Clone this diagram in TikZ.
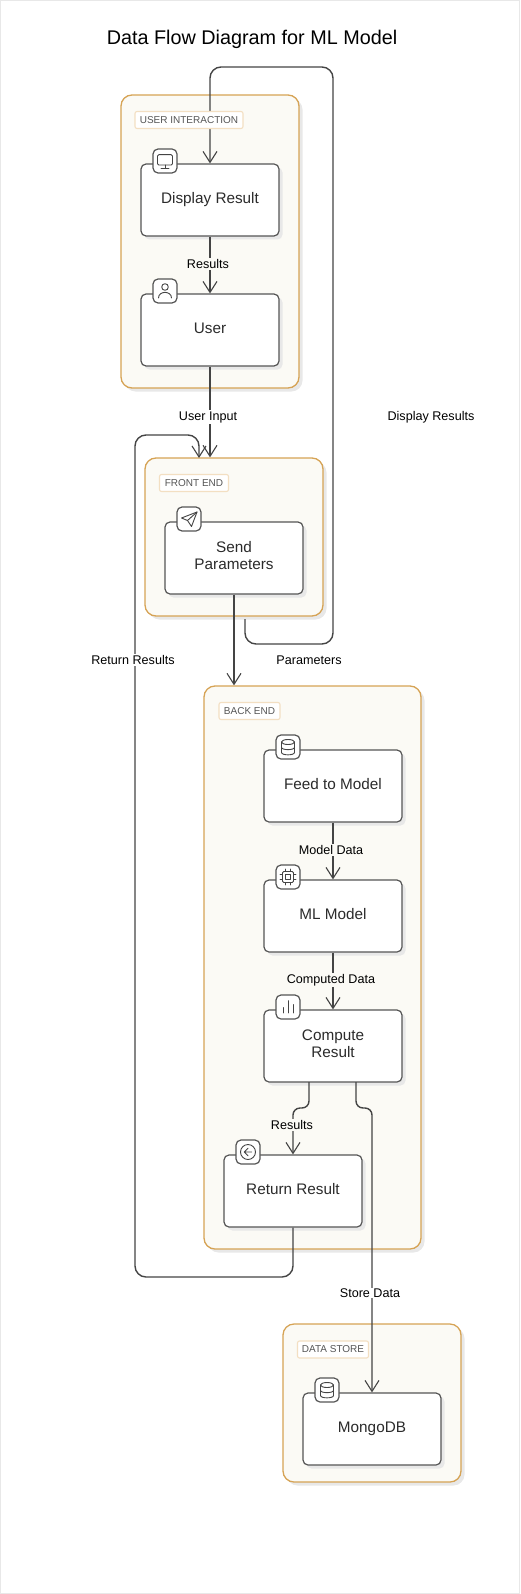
\documentclass[tikz,border=0pt]{standalone}
\usepackage{fontspec}
\setmainfont{Liberation Sans}
\usetikzlibrary{arrows.meta,shadows}
\definecolor{grpedge}{HTML}{D6A355}
\definecolor{grpfill}{HTML}{FBFAF5}
\definecolor{tagedge}{HTML}{F3DFC2}
\definecolor{boxedge}{HTML}{555555}
\definecolor{flowcol}{HTML}{444444}
\definecolor{txtcol}{HTML}{2B2B2B}
\definecolor{framecol}{HTML}{E8E8E8}
\tikzset{
  grpbox/.style={draw=grpedge,fill=grpfill,line width=1.3pt,rounded corners=11pt,inner sep=0pt,
    general shadow={shadow xshift=3.5pt,shadow yshift=-3.5pt,fill=black!9}},
  taskbox/.style={draw=boxedge,fill=white,line width=1.2pt,rounded corners=5pt,inner sep=0pt,
    minimum width=138pt,minimum height=72pt,align=center,text=txtcol,text depth=4.5pt,
    font=\fontsize{15.3}{17}\selectfont,
    general shadow={shadow xshift=3.5pt,shadow yshift=-3.5pt,fill=black!9}},
  iconbox/.style={draw=boxedge,fill=white,line width=1.2pt,rounded corners=5pt,inner sep=0pt,
    minimum width=24pt,minimum height=24pt},
  taglabel/.style={draw=tagedge,fill=white,line width=1.1pt,rounded corners=2pt,inner sep=0pt,
    minimum height=17pt,text=boxedge,font=\fontsize{10}{12}\selectfont},
  edgelabel/.style={inner sep=1pt,fill=white,text=black,font=\fontsize{12.6}{14}\selectfont},
  edgelabelin/.style={edgelabel,fill=grpfill},
  flow/.style={draw=flowcol,line width=1.4pt,rounded corners=11pt,
    -{Straight Barb[length=11pt,width=14pt,line width=1.1pt]}},
  glyph/.style={draw=flowcol,line width=0.9pt,line cap=round,line join=round},
  iconmonitor/.pic={
    \draw[glyph,rounded corners=1.3pt] (-7.5,-6.3) rectangle (7.5,4);
    \draw[glyph] (0,4) -- (0,7) (-4,7) -- (4,7);
  },
  iconuser/.pic={
    \draw[glyph] (0,-4) circle [radius=3.3];
    \draw[glyph] (-6.5,7) .. controls (-6.5,-0.5) and (6.5,-0.5) .. (6.5,7);
  },
  iconsend/.pic={
    \draw[glyph] (8,-7) -- (-7.5,-1) -- (-1.5,1.5) -- (2.5,7.5) -- cycle;
    \draw[glyph] (-1.5,1.5) -- (8,-7);
  },
  icondb/.pic={
    \draw[glyph] (0,-5) ellipse [x radius=6.5,y radius=2.5];
    \draw[glyph] (-6.5,-5) -- (-6.5,5.5) .. controls (-6.5,8.6) and (6.5,8.6) .. (6.5,5.5) -- (6.5,-5);
    \draw[glyph] (-6.5,0.3) .. controls (-6.5,3.4) and (6.5,3.4) .. (6.5,0.3);
  },
  iconcpu/.pic={
    \draw[glyph,rounded corners=1.3pt] (-5.5,-5.5) rectangle (5.5,5.5);
    \draw[glyph] (-2.5,-2.5) rectangle (2.5,2.5);
    \draw[glyph] (-2.5,-5.5) -- (-2.5,-8) (2.5,-5.5) -- (2.5,-8) (-2.5,5.5) -- (-2.5,8) (2.5,5.5) -- (2.5,8);
    \draw[glyph] (-5.5,-2.5) -- (-8,-2.5) (-5.5,2.5) -- (-8,2.5) (5.5,-2.5) -- (8,-2.5) (5.5,2.5) -- (8,2.5);
  },
  iconchart/.pic={
    \draw[glyph] (-5,0.5) -- (-5,6) (0,-6.3) -- (0,6) (5,-2.5) -- (5,6);
  },
  iconback/.pic={
    \draw[glyph] (0,0) circle [radius=7.5];
    \draw[glyph] (3.7,0) -- (-3.7,0) (0,-3.7) -- (-3.7,0) -- (0,3.7);
  },
}
\begin{document}
\begin{tikzpicture}[x=1pt,y=-1pt]
\useasboundingbox (0,0) rectangle (520,1594);
\draw [framecol,line width=1pt] (0.5,0.5) rectangle (519.5,1593.5);

% groups
\node [grpbox,minimum width=178pt,minimum height=293pt] (userside) at (210,241.5) {};
\node [grpbox,minimum width=178pt,minimum height=158pt] (frontend) at (234,537) {};
\node [grpbox,minimum width=217pt,minimum height=563pt] (backend) at (312.5,967.5) {};
\node [grpbox,minimum width=178pt,minimum height=158pt] (datastore) at (372,1403) {};

% task boxes
\node [taskbox] (display) at (210,200) {Display Result};
\node [taskbox] (user) at (210,330) {User};
\node [taskbox] (send) at (234,558) {Send\\Parameters};
\node [taskbox] (feed) at (333,786) {Feed to Model};
\node [taskbox] (mlmodel) at (333,916) {ML Model};
\node [taskbox] (compute) at (333,1046) {Compute\\Result};
\node [taskbox] (retresult) at (293,1191) {Return Result};
\node [taskbox] (mongo) at (372,1429) {MongoDB};

\coordinate (dispstart) at (245,619);
\coordinate (retin) at (199,458);

% connectors
\draw [flow] (display) -- (user);
\draw [flow] (user) -- (user.south |- frontend.north);
\draw [flow] (send) -- (send.south |- backend.north);
\draw [flow] (dispstart) -- (245,644) -- (333,644) -- (333,67) -- (210,67) -- (display.north);
\draw [flow] (feed) -- (mlmodel);
\draw [flow] (mlmodel) -- (compute);
\draw [flow,rounded corners=7pt] (309,1082) -- (309,1108) -- (293,1108) -- (retresult.north);
\draw [flow,rounded corners=7pt] (356,1082) -- (356,1108) -- (372,1108) -- (mongo.north);
\draw [flow] (retresult.south) -- (293,1277) -- (135,1277) -- (135,435) -- (199,435) -- (retin);

% icons
\node [iconbox] (icondisplay) at (165,161) {};
\pic at (icondisplay.center) {iconmonitor};
\node [iconbox] (iconperson) at (165,291) {};
\pic at (iconperson.center) {iconuser};
\node [iconbox] (iconparams) at (189,519) {};
\pic at (iconparams.center) {iconsend};
\node [iconbox] (iconfeed) at (288,747) {};
\pic at (iconfeed.center) {icondb};
\node [iconbox] (iconml) at (288,877) {};
\pic at (iconml.center) {iconcpu};
\node [iconbox] (iconcompute) at (288,1007) {};
\pic at (iconcompute.center) {iconchart};
\node [iconbox] (iconret) at (248,1152) {};
\pic at (iconret.center) {iconback};
\node [iconbox] (iconmongo) at (327,1390) {};
\pic at (iconmongo.center) {icondb};

% title, tags and labels
\node [taglabel,minimum width=108pt] (taguser) at (189,120) {USER INTERACTION};
\node [taglabel,minimum width=69pt] (tagfront) at (194,483) {FRONT END};
\node [taglabel,minimum width=61pt] (tagback) at (249.5,711) {BACK END};
\node [taglabel,minimum width=71pt] (tagstore) at (333,1349.5) {DATA STORE};
\node [text=black,font=\fontsize{19.8}{24}\selectfont,inner sep=0pt] (title) at (252,39) {Data Flow Diagram for ML Model};
\node [edgelabelin] (lblresults) at (208,264) {Results};
\node [edgelabel] (lbluser) at (208,417) {User Input};
\node [edgelabel] (lbldisplay) at (431,417) {Display Results};
\node [edgelabel] (lblreturn) at (133,660) {Return Results};
\node [edgelabel] (lblparams) at (309,660) {Parameters};
\node [edgelabelin] (lblmodel) at (331,850) {Model Data};
\node [edgelabelin] (lblcomputed) at (331,980) {Computed Data};
\node [edgelabelin] (lblresults2) at (292,1125) {Results};
\node [edgelabel] (lblstore) at (370,1293) {Store Data};
\end{tikzpicture}
\end{document}
